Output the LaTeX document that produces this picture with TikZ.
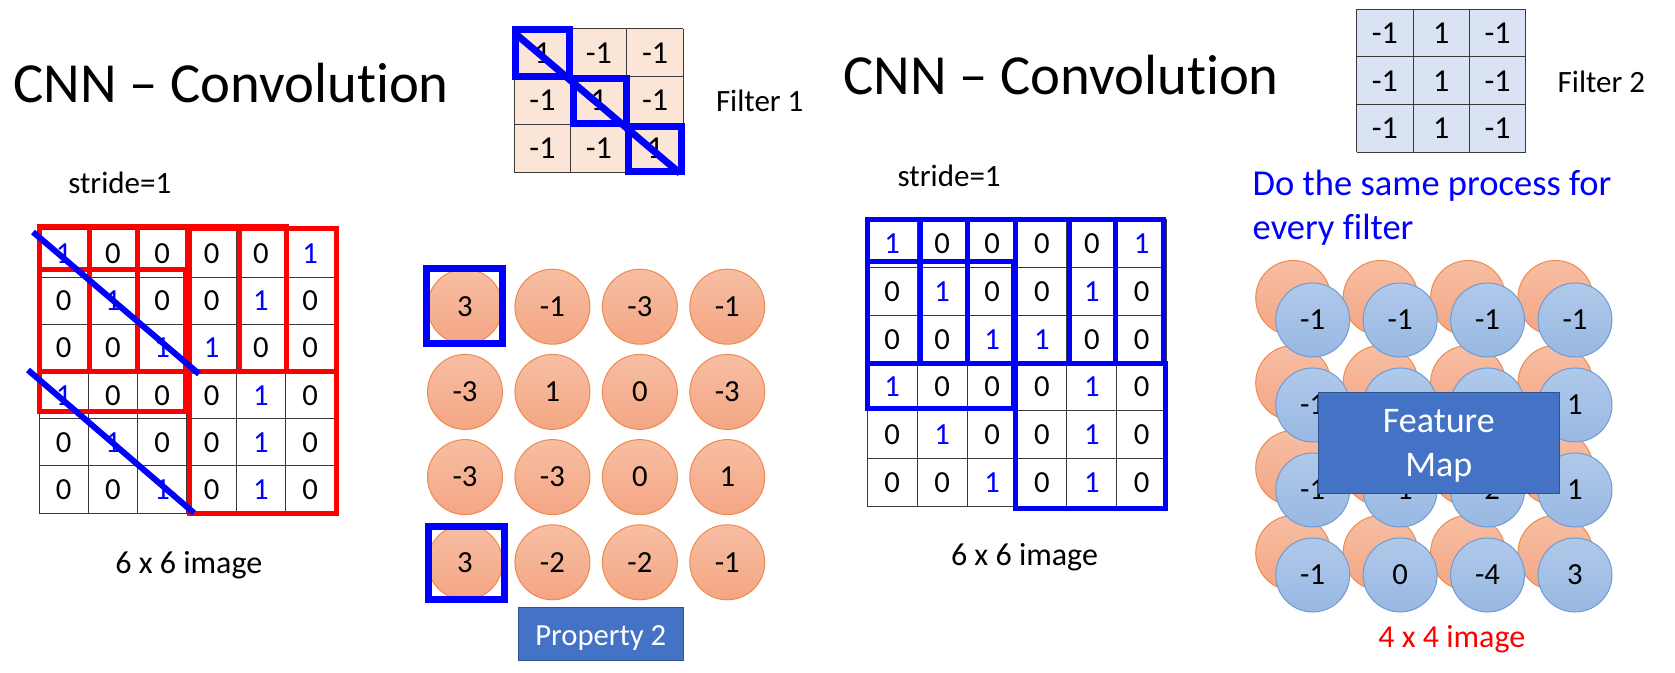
\documentclass[tikz,border=0pt]{standalone}
\usepackage{fontspec}
\setmainfont{Carlito}[Ligatures=NoCommon]
\newcommand\myfs[2]{\fontsize{#1pt}{#2pt}\selectfont}
\definecolor{peach}{HTML}{FBE5D6}
\definecolor{lblue}{HTML}{DAE3F3}
\definecolor{otop}{HTML}{F7BEA3}
\definecolor{obot}{HTML}{F4A684}
\definecolor{oedge}{HTML}{EE8A4C}
\definecolor{btop}{HTML}{B0C9EA}
\definecolor{bbot}{HTML}{98B8E2}
\definecolor{bedge}{HTML}{6F9CD3}
\definecolor{accent}{HTML}{4472C4}
\definecolor{accentdark}{HTML}{2F528F}
\definecolor{gridgray}{HTML}{3A3A3A}
\begin{document}
\begin{tikzpicture}[x=0.75pt,y=-0.75pt,
  every node/.style={inner sep=0pt, outer sep=0pt},
  gridline/.style={draw=gridgray, line width=0.75pt},
  redwin/.style={draw=red, line width=3.75pt},
  bluewin/.style={draw=blue, line width=3.75pt},
  bluethick/.style={draw=blue, line width=5.25pt},
  diagline/.style={draw=blue, line width=4.5pt},
  num/.style={font=\myfs{23}{27}},
  fnum/.style={font=\myfs{24}{28}},
  label/.style={anchor=base west, font=\myfs{23.25}{28}},
  titletext/.style={anchor=base west, font=\myfs{42.5}{50}},
  ocirc/.style={circle, draw=oedge, line width=0.75pt, top color=otop, bottom color=obot, minimum size=56.25pt, font=\myfs{23}{27}},
  bcirc/.style={circle, draw=bedge, line width=0.75pt, top color=btop, bottom color=bbot, minimum size=55.5pt, font=\myfs{23}{27}},
  accbox/.style={rectangle, draw=accentdark, fill=accent, line width=0.75pt}
]
\useasboundingbox (0,0) rectangle (1675,673);

% ---------- titles ----------
\node[titletext] (title1) at (13.3,102.3) {CNN – Convolution};
\node[titletext] (title2) at (843.3,95) {CNN – Convolution};
\node[label] (stride1) at (68.3,194) {stride=1};
\node[label] (stride2) at (897.7,186.7) {stride=1};
\node[label] (filt1) at (716,111.7) {Filter 1};
\node[label] (filt2) at (1557.7,92.3) {Filter 2};
\node[anchor=base west, font=\myfs{27.4}{33}, text=blue] (same1) at (1252.7,196) {Do the same process for};
\node[anchor=base west, font=\myfs{27.4}{33}, text=blue] (same2) at (1252.7,240) {every filter};
\node[anchor=base west, font=\myfs{24}{29}] (img1) at (115.3,573.3) {6 x 6 image};
\node[anchor=base west, font=\myfs{24}{29}] (img2) at (951,565.7) {6 x 6 image};
\node[anchor=base west, font=\myfs{24}{29}, text=red] (img3) at (1378.3,647.3) {4 x 4 image};

% ---------- Filter 1 ----------
\fill[peach] (514.3,29) rectangle (683.3,172.3);
\foreach \i in {0,...,3} {
  \draw[gridline] ({514.3+56.33*\i},29) -- ({514.3+56.33*\i},172.3);
  \draw[gridline] (514.3,{29+47.77*\i}) -- (683.3,{29+47.77*\i});
}
\foreach \row [count=\r from 0] in {{1,-1,-1},{-1,1,-1},{-1,-1,1}} {
  \foreach \v [count=\c from 0] in \row {
    \node[fnum] (F1-\r-\c) at ({514.3+56.33*(\c+0.5)},{29+47.77*(\r+0.5)}) {\v};
  }
}
\draw[bluethick] (515.5,29.5) rectangle (569.7,76.2);
\draw[bluethick] (573.7,78.8) rectangle (626.7,123.7);
\draw[bluethick] (628,126.3) rectangle (681.7,172);
\draw[diagline, line width=5.25pt] (515,33.3) -- (680,173.3);

% ---------- Filter 2 ----------
\fill[lblue] (1356.7,9.3) rectangle (1525.7,152.3);
\foreach \i in {0,...,3} {
  \draw[gridline] ({1356.7+56.33*\i},9.3) -- ({1356.7+56.33*\i},152.3);
  \draw[gridline] (1356.7,{9.3+47.67*\i}) -- (1525.7,{9.3+47.67*\i});
}
\foreach \row [count=\r from 0] in {{-1,1,-1},{-1,1,-1},{-1,1,-1}} {
  \foreach \v [count=\c from 0] in \row {
    \node[fnum] (F2-\r-\c) at ({1356.7+56.33*(\c+0.5)},{9.3+47.67*(\r+0.5)}) {\v};
  }
}

% ---------- left 6x6 image ----------
\foreach \i in {0,...,6} {
  \draw[gridline] ({39+49.3*\i},230) -- ({39+49.3*\i},513.2);
  \draw[gridline] (39,{230+47.2*\i}) -- (334.8,{230+47.2*\i});
}
\foreach \row [count=\r from 0] in {{1,0,0,0,0,1},{0,1,0,0,1,0},{0,0,1,1,0,0},{1,0,0,0,1,0},{0,1,0,0,1,0},{0,0,1,0,1,0}} {
  \foreach \v [count=\c from 0] in \row {
    \node[num] (L-\r-\c) at ({39+49.3*(\c+0.5)},{230+47.2*(\r+0.5)}) {\ifnum\v=1 \color{blue}\fi\v};
  }
}
\draw[redwin] (39,227) rectangle (187,371.7);
\draw[redwin] (89,227) rectangle (239,371.7);
\draw[redwin] (137,227) rectangle (286,371.7);
\draw[redwin] (189,228.3) rectangle (336.7,371.7);
\draw[redwin] (39,270) rectangle (185,412);
\draw[redwin] (189,371.7) rectangle (336.7,513.3);
\draw[diagline] (33,232) -- (199,374);
\draw[diagline] (28,370) -- (194,513);

% ---------- right 6x6 image ----------
\foreach \i in {0,...,6} {
  \draw[gridline] ({867.3+49.9*\i},220) -- ({867.3+49.9*\i},506);
  \draw[gridline] (867.3,{220+47.67*\i}) -- (1166.7,{220+47.67*\i});
}
\foreach \row [count=\r from 0] in {{1,0,0,0,0,1},{0,1,0,0,1,0},{0,0,1,1,0,0},{1,0,0,0,1,0},{0,1,0,0,1,0},{0,0,1,0,1,0}} {
  \foreach \v [count=\c from 0] in \row {
    \node[num] (R-\r-\c) at ({867.3+49.9*(\c+0.5)},{220+47.67*(\r+0.5)}) {\ifnum\v=1 \color{blue}\fi\v};
  }
}
\draw[bluewin] (867.5,220) rectangle (1015.7,363.3);
\draw[bluewin] (920.7,220) rectangle (1069,363.3);
\draw[bluewin] (967,220) rectangle (1115,363.3);
\draw[bluewin] (1015.7,220) rectangle (1163.3,363.3);
\draw[bluewin] (867.5,261.7) rectangle (1013.3,408.3);
\draw[bluewin] (1015.7,363.3) rectangle (1165,508.3);

% ---------- left result circles ----------
\foreach \row [count=\r from 0] in {{3,-1,-3,-1},{-3,1,0,-3},{-3,-3,0,1},{3,-2,-2,-1}} {
  \foreach \v [count=\c from 0] in \row {
    \node[ocirc] (O-\r-\c) at ({465+87.43*\c},{306.7+85.2*\r}) {\v};
  }
}
\draw[bluethick] (426.2,268.5) rectangle (502.5,343.2);
\draw[bluethick] (428.5,526.2) rectangle (504.8,599.8);
\node[accbox, minimum width=123.75pt, minimum height=39.5pt] (prop) at (600.8,633.7) {};
\node[anchor=base, font=\myfs{23}{28}, text=white] (proptext) at (600.8,645) {Property 2};

% ---------- feature map (values hidden under the box are left blank) ----------
\foreach \row [count=\r from 0] in {{-1,-1,-1,-1},{-1,{},{},1},{-1,-1,-2,1},{-1,0,-4,3}} {
  \foreach \v [count=\c from 0] in \row {
    \node[ocirc] (BO-\r-\c) at ({1312.7+87.43*\c-19.5},{320+85*\r-22}) {};
  }
}
\foreach \row [count=\r from 0] in {{-1,-1,-1,-1},{-1,{},{},1},{-1,-1,-2,1},{-1,0,-4,3}} {
  \foreach \v [count=\c from 0] in \row {
    \node[bcirc] (B-\r-\c) at ({1312.7+87.43*\c},{320+85*\r}) {\v};
  }
}
\node[accbox, minimum width=180.75pt, minimum height=75.75pt] (fmap) at (1438.8,442.8) {};
\node[anchor=base, font=\myfs{27}{33}, text=white] (fmap1) at (1438.8,433) {Feature};
\node[anchor=base, font=\myfs{27}{33}, text=white] (fmap2) at (1438.8,476.7) {Map};
\end{tikzpicture}
\end{document}
